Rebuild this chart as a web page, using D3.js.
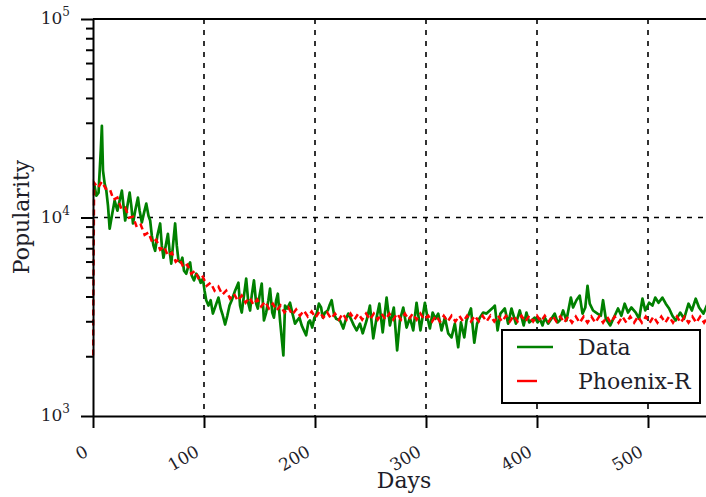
<!DOCTYPE html>
<html>
<head>
<meta charset="utf-8">
<script src="https://cdn.jsdelivr.net/npm/d3@7"></script>
<style>
  body { margin: 0; background: #fff; }
  svg { display: block; font-family: "DejaVu Serif", serif; }
</style>
</head>
<body>
<svg id="chart" width="706" height="497"></svg>
<script>
// tick labels and axis text
const xTicks = [0, 100, 200, 300, 400, 500];
const yMajor = [1e3, 1e4, 1e5];
const xLabel = "Days";
const yLabel = "Popularity";
const legendLabels = ["Data", "Phoenix-R"];

// observed popularity (green)
const dataDays = [
  1, 3, 5, 7, 8, 9, 10.5, 12, 13.5, 15,
  17, 19.5, 22, 24, 26, 27.5, 29, 31, 33, 34.5,
  36, 38, 40.5, 42, 44, 46, 48, 50, 51.5, 53,
  54.5, 56, 58, 60.5, 62, 63.5, 65.5, 67.5, 69, 70.5,
  72.5, 74, 75.5, 77, 79, 80.5, 82, 84, 86, 87.5,
  89, 91, 93, 95, 97, 99, 100.5, 102, 104, 106,
  108, 110.5, 113, 115, 117, 119, 121, 123, 125, 128,
  131, 132.5, 134, 136, 138, 140, 141.5, 143, 145, 147,
  148.5, 150, 152, 154, 156, 158, 159.5, 161.5, 163, 165,
  166.5, 168.5, 171.5, 173, 175, 177.5, 179.5, 182, 184, 186,
  188, 190, 192, 194, 195.5, 197.5, 199.5, 201.5, 203.5, 205.5,
  207, 209, 211.5, 213, 215, 217, 219, 222.5, 225.5, 228,
  230, 233, 235, 237.5, 240.5, 243, 246.5, 249.5, 252.5, 255.5,
  258, 261, 264.5, 267.5, 271, 274, 276.5, 279.5, 282.5, 285.5,
  288.5, 291.5, 295, 299, 301.5, 303.5, 306, 308.5, 311, 314,
  317, 320, 323, 326, 329, 331.5, 334.5, 336.5, 340.5, 343.5,
  346, 348.5, 351.5, 354.5, 357.5, 360.5, 362, 364.5, 367, 371,
  374, 377, 381, 384.5, 388, 390.5, 393, 395, 398, 400.5,
  402.5, 405, 407, 410, 413, 416, 418.5, 420.5, 423.5, 426.5,
  430.5, 432.5, 435.5, 438.5, 441, 443.5, 445.5, 447.5, 450.5, 454.5,
  457.5, 459.5, 462, 466, 470, 473, 476, 479, 482, 485,
  489, 492, 495, 497.5, 501, 504, 506.5, 509.5, 513, 516,
  519, 522, 525, 529, 532.5, 536.5, 539.5, 543, 546, 550,
  553, 556, 560
];
const dataValues = [
  14820, 12880, 13340, 21710, 28990, 17230, 14820, 13650, 11470, 8780,
  10210, 12170, 10820, 12170, 13650, 11470, 9660, 11470, 13340, 11470,
  9330, 10820, 12590, 10820, 9440, 10580, 11740, 10210, 9660, 8100,
  7210, 6800, 8100, 9330, 7210, 6270, 7210, 8280, 6800, 5860,
  7660, 9330, 7210, 6080, 5940, 6270, 5390, 5210, 5720, 5940,
  5090, 4820, 5210, 5030, 4690, 4920, 4280, 3830, 3600, 3830,
  3280, 3600, 3950, 3480, 3200, 2890, 3200, 3600, 3830, 4280,
  4690, 3600, 3320, 4040, 4920, 3680, 3400, 4040, 4820, 3680,
  3480, 4040, 4640, 3030, 3320, 3830, 4380, 3320, 3130, 3830,
  4130, 3030, 2020, 3600, 3480, 3720, 3320, 2920, 3030, 3130,
  2860, 2700, 2550, 2960, 3030, 2790, 3130, 3280, 3680, 3520,
  3130, 3320, 3400, 3600, 3830, 3280, 3090, 3030, 2760, 3090,
  3280, 3030, 2860, 2700, 2920, 2610, 3030, 3600, 2460, 3130,
  3680, 2640, 3950, 2860, 3520, 2140, 3030, 3520, 2790, 3130,
  2700, 3720, 2700, 3720, 3090, 2760, 3320, 3090, 3280, 2700,
  3130, 2610, 2490, 2920, 2220, 2960, 2490, 3030, 3480, 2340,
  2920, 3130, 3320, 3280, 3400, 3520, 3600, 2700, 3280, 3480,
  2920, 3480, 2920, 3400, 2860, 3320, 2960, 3030, 3130, 2960,
  3090, 2860, 3130, 2920, 3090, 3280, 2960, 3030, 3400, 3030,
  3950, 3520, 3830, 4040, 3280, 3520, 4530, 3680, 3400, 3280,
  3200, 3830, 3090, 2860, 3200, 3480, 3200, 3680, 3320, 3520,
  3320, 3090, 3900, 3400, 3720, 3600, 3950, 3720, 3950, 3680,
  3480, 3200, 3030, 3320, 3090, 3680, 3400, 3900, 3520, 3280,
  3600, 3830, 3400
];

// Phoenix-R model (red dashed)
const modelDays = [
  0, 1, 4.5, 8, 11.5, 15, 18.5, 22, 25.5, 29,
  32.5, 36, 39.5, 43, 46.5, 50, 53.5, 57, 60.5, 64,
  67.5, 71, 74.5, 78, 81.5, 85, 88.5, 92, 95.5, 99,
  102.5, 106, 109.5, 113, 116.5, 120, 123.5, 127, 130.5, 134,
  137.5, 141, 144.5, 148, 151.5, 155, 158.5, 162, 165.5, 169,
  172.5, 176, 179.5, 183, 186.5, 190, 193.5, 197, 200.5, 204,
  207.5, 211, 214.5, 218, 221.5, 225, 228.5, 232, 235.5, 239,
  242.5, 246, 249.5, 253, 256.5, 260, 263.5, 267, 270.5, 274,
  277.5, 281, 284.5, 288, 291.5, 295, 298.5, 302, 305.5, 309,
  312.5, 316, 319.5, 323, 326.5, 330, 333.5, 337, 340.5, 344,
  347.5, 351, 354.5, 358, 361.5, 365, 368.5, 372, 375.5, 379,
  382.5, 386, 389.5, 393, 396.5, 400, 403.5, 407, 410.5, 414,
  417.5, 421, 424.5, 428, 431.5, 435, 438.5, 442, 445.5, 449,
  452.5, 456, 459.5, 463, 466.5, 470, 473.5, 477, 480.5, 484,
  487.5, 491, 494.5, 498, 501.5, 505, 508.5, 512, 515.5, 519,
  522.5, 526, 529.5, 533, 536.5, 540, 543.5, 547, 550.5, 554,
  557.5, 561
];
const modelValues = [
  2020, 14990, 14130, 15160, 13970, 13970, 12300, 12590, 11070, 11220,
  9980, 10100, 8930, 9200, 8180, 8400, 7460, 7730, 6880, 7140,
  6420, 6650, 5990, 6200, 5600, 5790, 5210, 5390, 4860, 5030,
  4530, 4690, 4280, 4480, 4090, 4280, 3900, 4130, 3810, 4040,
  3720, 3950, 3640, 3860, 3560, 3770, 3480, 3680, 3400, 3600,
  3320, 3520, 3240, 3440, 3200, 3400, 3170, 3360, 3130, 3360,
  3130, 3320, 3090, 3280, 3060, 3280, 3060, 3280, 3060, 3280,
  3060, 3280, 3060, 3280, 3060, 3280, 3060, 3280, 3060, 3280,
  3060, 3280, 3060, 3280, 3060, 3280, 3060, 3200, 2990, 3200,
  2990, 3200, 2990, 3200, 2990, 3200, 2990, 3200, 2990, 3200,
  2990, 3200, 2990, 3200, 2990, 3200, 2990, 3200, 2990, 3200,
  2990, 3200, 2990, 3200, 2990, 3200, 2990, 3200, 2990, 3200,
  2990, 3170, 2950, 3170, 2950, 3170, 2950, 3170, 2950, 3170,
  2950, 3170, 2950, 3170, 2950, 3170, 2950, 3170, 2950, 3170,
  2950, 3170, 2950, 3170, 2950, 3170, 2950, 3170, 2950, 3170,
  2950, 3170, 2950, 3170, 2950, 3170, 2950, 3170, 2950, 3170,
  2950, 3170
];

const svg = d3.select("#chart");
const W = 706, H = 497;
const plot = {left: 93, top: 19, bottom: 416};
const textColor = "#1e1e2a";

// 1.11 px per day; right spine falls just outside the picture
const x = d3.scaleLinear().domain([0, 560]).range([plot.left, plot.left + 560 * 1.11]);
const y = d3.scaleLog().domain([1e3, 1e5]).range([plot.bottom, plot.top]);

svg.append("defs").append("clipPath").attr("id", "clip")
  .append("rect")
    .attr("x", plot.left - 1).attr("y", plot.top)
    .attr("width", W - plot.left + 1).attr("height", plot.bottom - plot.top);

// grid
const grid = svg.append("g").attr("stroke", "#000").attr("stroke-width", 1.6)
  .attr("stroke-dasharray", "5,6");
grid.selectAll("line.v").data(xTicks.slice(1)).enter().append("line")
  .attr("class", "v")
  .attr("x1", d => x(d)).attr("x2", d => x(d))
  .attr("y1", plot.top).attr("y2", plot.bottom);
grid.selectAll("line.h").data([1e4]).enter().append("line")
  .attr("class", "h")
  .attr("x1", plot.left).attr("x2", W)
  .attr("y1", d => y(d)).attr("y2", d => y(d));

// lines
const line = d3.line().x(d => x(d[0])).y(d => y(d[1]));
const dataPts = dataDays.map((d, i) => [d, dataValues[i]]);
const modelPts = modelDays.map((d, i) => [d, modelValues[i]]);

const lines = svg.append("g").attr("clip-path", "url(#clip)");
lines.append("path").datum(dataPts)
  .attr("fill", "none")
  .attr("stroke", "#008000")
  .attr("stroke-width", 2.7)
  .attr("stroke-linejoin", "round")
  .attr("d", line);
lines.append("path").datum(modelPts)
  .attr("fill", "none")
  .attr("stroke", "#ff0000")
  .attr("stroke-width", 2.5)
  .attr("stroke-dasharray", "6,4")
  .attr("d", line);

// top spine
svg.append("line")
  .attr("x1", plot.left).attr("x2", W)
  .attr("y1", plot.top).attr("y2", plot.top)
  .attr("stroke", "#000").attr("stroke-width", 2);

// y axis: major + minor ticks
const yMinor = y.ticks().filter(v => yMajor.indexOf(v) < 0);
const yAxis = svg.append("g").attr("transform", "translate(" + plot.left + ",0)")
  .call(d3.axisLeft(y).tickValues(yMajor).tickSize(12).tickSizeOuter(0).tickFormat(""));
yAxis.append("g")
  .call(d3.axisLeft(y).tickValues(yMinor).tickSize(7).tickFormat(""))
  .select(".domain").remove();
yAxis.selectAll("path, line").attr("stroke", "#000").attr("stroke-width", 2);

const yLab = svg.append("g").attr("fill", textColor).attr("font-size", 17);
yMajor.forEach(v => {
  const t = yLab.append("text")
    .attr("x", 70).attr("y", y(v) + 5)
    .attr("text-anchor", "end");
  t.append("tspan").text("10");
  t.append("tspan").attr("dy", -8).attr("font-size", 12).text(Math.round(Math.log10(v)));
});

// x axis
const xAxis = svg.append("g").attr("transform", "translate(0," + plot.bottom + ")")
  .call(d3.axisBottom(x).tickValues(xTicks).tickSize(12).tickSizeOuter(0));
xAxis.selectAll("path, line").attr("stroke", "#000").attr("stroke-width", 2);
xAxis.selectAll("text")
  .attr("x", 0).attr("y", 0).attr("dy", "0.35em")
  .attr("text-anchor", "end")
  .attr("transform", "translate(-7,34) rotate(-30)")
  .attr("font-size", 17)
  .attr("font-family", "DejaVu Serif, serif")
  .attr("fill", textColor);

// axis titles
svg.append("text")
  .attr("x", 404).attr("y", 488)
  .attr("text-anchor", "middle")
  .attr("font-size", 22).attr("fill", textColor)
  .text(xLabel);
svg.append("text")
  .attr("transform", "translate(29,217) rotate(-90)")
  .attr("text-anchor", "middle")
  .attr("font-size", 22).attr("fill", textColor)
  .text(yLabel);

// legend
const lg = svg.append("g");
lg.append("rect")
  .attr("x", 502).attr("y", 330).attr("width", 198).attr("height", 73)
  .attr("fill", "#fff").attr("stroke", "#000").attr("stroke-width", 2);
lg.append("line")
  .attr("x1", 517).attr("x2", 553).attr("y1", 347).attr("y2", 347)
  .attr("stroke", "#008000").attr("stroke-width", 2.4);
lg.append("line")
  .attr("x1", 517).attr("x2", 537).attr("y1", 381).attr("y2", 381)
  .attr("stroke", "#ff0000").attr("stroke-width", 2.4);
lg.selectAll("text").data(legendLabels).enter().append("text")
  .attr("x", 578).attr("y", (d, i) => 355 + i * 34)
  .attr("font-size", 22).attr("fill", textColor)
  .text(d => d);
</script>
</body>
</html>
